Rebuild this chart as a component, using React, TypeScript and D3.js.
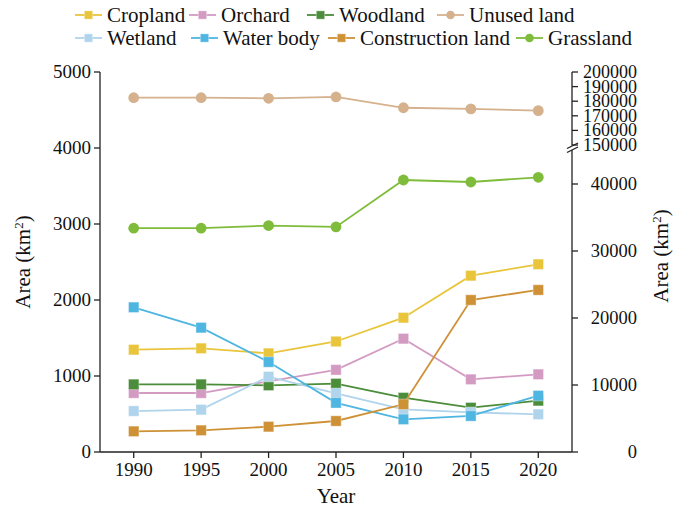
import React from "react";
import * as d3 from "d3";

// Land-use area by year (km²)
const years = [1990, 1995, 2000, 2005, 2010, 2015, 2020];
const cropland = [1346, 1364, 1298, 1454, 1767, 2320, 2470];
const orchard = [776, 776, 930, 1081, 1491, 956, 1022];
const woodland = [890, 890, 877, 899, 714, 583, 675];
const wetland = [539, 557, 991, 772, 562, 522, 496];
const waterBody = [1904, 1636, 1184, 647, 430, 474, 741];
const construction = [272, 285, 333, 408, 628, 2000, 2132];
// Large classes, read on the right (broken) axis
const unusedLand = [182400, 182400, 182000, 182900, 175500, 174700, 173500];
const grassland = [33400, 33400, 33800, 33600, 40600, 40300, 41000];

const leftTicks = [0, 1000, 2000, 3000, 4000, 5000];
const rightLowTicks = [0, 10000, 20000, 30000, 40000];
const rightHighTicks = [150000, 160000, 170000, 180000, 190000, 200000];

type Series = {
  name: string;
  values: number[];
  color: string;
  shape: "square" | "circle";
  axis: "left" | "right";
};

const series: Series[] = [
  { name: "Cropland", values: cropland, color: "#e9c53c", shape: "square", axis: "left" },
  { name: "Orchard", values: orchard, color: "#d39bc2", shape: "square", axis: "left" },
  { name: "Woodland", values: woodland, color: "#4b8d3b", shape: "square", axis: "left" },
  { name: "Unused land", values: unusedLand, color: "#d5b18e", shape: "circle", axis: "right" },
  { name: "Wetland", values: wetland, color: "#afd4ec", shape: "square", axis: "left" },
  { name: "Water body", values: waterBody, color: "#4fb5e1", shape: "square", axis: "left" },
  { name: "Construction land", values: construction, color: "#cf9136", shape: "square", axis: "left" },
  { name: "Grassland", values: grassland, color: "#7fbc3b", shape: "circle", axis: "right" },
];

const W = 674;
const H = 510;
const X0 = 100;
const X1 = 572;
const Y0 = 452;
const YTOP = 72;
const FONT = "'Liberation Serif', 'Times New Roman', serif";

// legend slots: [x, y]
const legendPos: [number, number][] = [
  [75, 15], [189, 15], [307, 15], [437, 15],
  [75, 38], [191, 38], [328, 38], [516, 38],
];

export default function App() {
  const x = d3.scalePoint<number>().domain(years).range([X0, X1]).padding(0.5);
  const yLeft = d3.scaleLinear().domain([0, 5000]).range([Y0, YTOP]);
  const yLow = d3.scaleLinear().domain([0, 40000]).range([Y0, 184]);
  const yHigh = d3.scaleLinear().domain([150000, 200000]).range([145, YTOP]);
  const yRight = (v: number) => (v >= 100000 ? yHigh(v) : yLow(v));

  const yOf = (s: Series) => (v: number) => (s.axis === "left" ? yLeft(v) : yRight(v));

  const marker = (s: Series, cx: number, cy: number, key: string | number, size = 1) => {
    if (s.shape === "square") {
      const h = 5.2 * size;
      return (
        <rect key={key} x={cx - h} y={cy - h} width={2 * h} height={2 * h}
          fill={s.color} stroke="#ffffff" strokeOpacity={0.35} strokeWidth={1} />
      );
    }
    return <circle key={key} cx={cx} cy={cy} r={5.4 * size} fill={s.color} />;
  };

  return (
    <svg width={W} height={H} style={{ display: "block", position: "absolute", left: 0, top: 0, background: "#fff" }}
      fontFamily={FONT}>
      <rect width={W} height={H} fill="#ffffff" />

      {/* legend */}
      {series.map((s, i) => {
        const [lx, ly] = legendPos[i];
        return (
          <g key={s.name}>
            <line x1={lx} x2={lx + 27} y1={ly} y2={ly} stroke={s.color} strokeWidth={1.8} />
            {marker(s, lx + 13.5, ly, "m", 0.8)}
            <text x={lx + 32} y={ly} dy="0.33em" fontSize={21} fill="#111">{s.name}</text>
          </g>
        );
      })}

      {/* series */}
      {series.map((s) => {
        const fy = yOf(s);
        const line = d3.line<number>().x((_, i) => x(years[i]) as number).y((v) => fy(v));
        return (
          <g key={s.name}>
            <path d={line(s.values) || ""} fill="none" stroke={s.color} strokeWidth={1.8} />
            {s.values.map((v, i) => marker(s, x(years[i]) as number, fy(v), i))}
          </g>
        );
      })}

      {/* left axis */}
      <g stroke="#222" strokeWidth={1.3}>
        <line x1={X0} x2={X0} y1={YTOP} y2={Y0} />
        {leftTicks.map((t) => (
          <line key={t} x1={X0 - 6} x2={X0} y1={yLeft(t)} y2={yLeft(t)} />
        ))}
      </g>
      {leftTicks.map((t) => (
        <text key={t} x={X0 - 9} y={yLeft(t)} dy="0.33em" textAnchor="end" fontSize={19} fill="#111">{t}</text>
      ))}

      {/* bottom axis */}
      <g stroke="#222" strokeWidth={1.3}>
        <line x1={X0} x2={X1} y1={Y0} y2={Y0} />
        {years.map((yr) => (
          <line key={yr} x1={x(yr)} x2={x(yr)} y1={Y0} y2={Y0 + 6} />
        ))}
      </g>
      {years.map((yr) => (
        <text key={yr} x={x(yr)} y={476} textAnchor="middle" fontSize={19} fill="#111">{yr}</text>
      ))}
      <text x={(X0 + X1) / 2} y={503} textAnchor="middle" fontSize={21} fill="#111">Year</text>

      {/* right axis with break */}
      <g stroke="#222" strokeWidth={1.3}>
        <line x1={X1} x2={X1} y1={YTOP} y2={145.5} />
        <line x1={X1} x2={X1} y1={150} y2={Y0} />
        <line x1={567} x2={578} y1={148.5} y2={143} />
        <line x1={567} x2={578} y1={152.5} y2={147} />
        {rightLowTicks.map((t) => (
          <line key={t} x1={X1} x2={X1 + 6} y1={yLow(t)} y2={yLow(t)} />
        ))}
        {rightHighTicks.map((t) => (
          <line key={t} x1={X1} x2={X1 + 6} y1={yHigh(t)} y2={yHigh(t)} />
        ))}
      </g>
      {rightLowTicks.map((t) => (
        <text key={t} x={637} y={yLow(t)} dy="0.33em" textAnchor="end" fontSize={18.5} fill="#111">{t}</text>
      ))}
      {rightHighTicks.map((t) => (
        <text key={t} x={637} y={yHigh(t)} dy="0.33em" textAnchor="end" fontSize={18} fill="#111">{t}</text>
      ))}

      {/* axis titles */}
      <text transform={`translate(30,262) rotate(-90)`} textAnchor="middle" fontSize={21} fill="#111">
        Area (km<tspan dy="-7" fontSize={13}>2</tspan><tspan dy="7">)</tspan>
      </text>
      <text transform={`translate(668,256) rotate(-90)`} textAnchor="middle" fontSize={21} fill="#111">
        Area (km<tspan dy="-7" fontSize={13}>2</tspan><tspan dy="7">)</tspan>
      </text>
    </svg>
  );
}
